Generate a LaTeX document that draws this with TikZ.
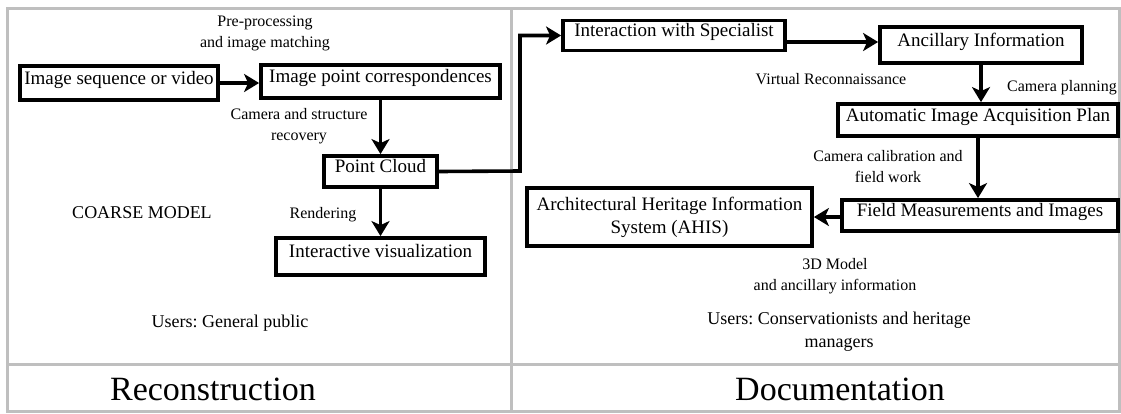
\documentclass[tikz,border=0pt]{standalone}
\usepackage{fontspec}
\setmainfont{Liberation Serif}
\usetikzlibrary{arrows.meta}
\frenchspacing
\begin{document}
\begin{tikzpicture}[x=1pt,y=-1pt,
  box/.style={draw, line width=3.8pt, inner sep=0pt, align=center, font=\fontsize{19}{23}\selectfont},
  one/.style={text height=13pt, text depth=11pt},
  lbl/.style={font=\fontsize{16}{21}\selectfont\frenchspacing, align=center, inner sep=0pt},
  big/.style={font=\fontsize{34}{40}\selectfont, inner sep=0pt},
  arr/.style={line width=3.6pt, -{Stealth[length=15pt,width=18pt,inset=4pt]}},
  gridline/.style={draw=black!25, line width=3pt}]
\useasboundingbox (0,0) rectangle (1121,413);
\fill[white] (0,0) rectangle (1121,413);
% table grid
\draw[gridline] (7,8) rectangle (1119,411);
\draw[gridline] (511,8) -- (511,411);
\draw[gridline] (7,364) -- (1119,364);
% left boxes
\node[box, one, minimum width=198pt, minimum height=34pt] (seq) at (119,83) {Image sequence or video};
\node[box, one, minimum width=239pt, minimum height=33pt] (ipc) at (380.5,81.5) {Image point correspondences};
\node[box, one, minimum width=113pt, minimum height=31pt] (pc) at (380.5,171.5) {Point Cloud};
\node[box, one, minimum width=209pt, minimum height=37pt] (iv) at (380.5,256.5) {Interactive visualization};
% right boxes
\node[box, one, minimum width=222pt, minimum height=30pt] (is) at (674,35.5) {Interaction with Specialist};
\node[box, one, minimum width=202pt, minimum height=36pt] (ai) at (981,45) {Ancillary Information};
\node[box, one, minimum width=280pt, minimum height=32pt] (aiap) at (978,120) {Automatic Image Acquisition Plan};
\node[box, one, minimum width=276pt, minimum height=31pt] (fmi) at (980,215.5) {Field Measurements and Images};
\node[box, minimum width=285pt, minimum height=58pt] (ahis) at (669.5,217) {Architectural Heritage Information\\System (AHIS)};
% connectors
\draw[arr] (seq.east) -- (seq.east -| ipc.west);
\draw[arr] (ipc.south) -- (pc.north);
\draw[arr] (pc.south) -- (iv.north);
\coordinate (bend) at (520,171);
\draw[arr] (pc.east) -- (bend) |- (is.west);
\coordinate (s1) at ([yshift=-6.5pt]is.east);
\draw[arr] (s1) -- (s1 -| ai.west);
\draw[arr] (ai.south) -- (ai.south |- aiap.north);
\draw[arr] (aiap.south) -- (aiap.south |- fmi.north);
\draw[arr] ([yshift=-1.5pt]fmi.west) coordinate (s2) -- (s2 -| ahis.east);
% labels
\node[lbl] (l1) at (265,33.5) {Pre-processing\\and image matching};
\node[lbl] (l2) at (299,126.5) {Camera and structure\\recovery};
\node[lbl] (l3) at (323,215) {Rendering};
\node[lbl, font=\fontsize{18}{22}\selectfont] (l4) at (142,213) {COARSE MODEL};
\node[lbl, font=\fontsize{18}{22}\selectfont] (l5) at (230,323) {Users: General public};
\node[big] (l6) at (213,389) {Reconstruction};
\node[lbl] (l7) at (831,79) {Virtual Reconnaissance};
\node[lbl] (l8) at (1062,88) {Camera planning};
\node[lbl] (l9) at (888,167) {Camera calibration and\\field work};
\node[lbl] (l10) at (835,276) {3D Model\\and ancillary information};
\node[lbl, font=\fontsize{18}{23}\selectfont] (l11) at (839,332) {Users: Conservationists and heritage\\managers};
\node[big] (l12) at (840,389) {Documentation};
\end{tikzpicture}
\end{document}
